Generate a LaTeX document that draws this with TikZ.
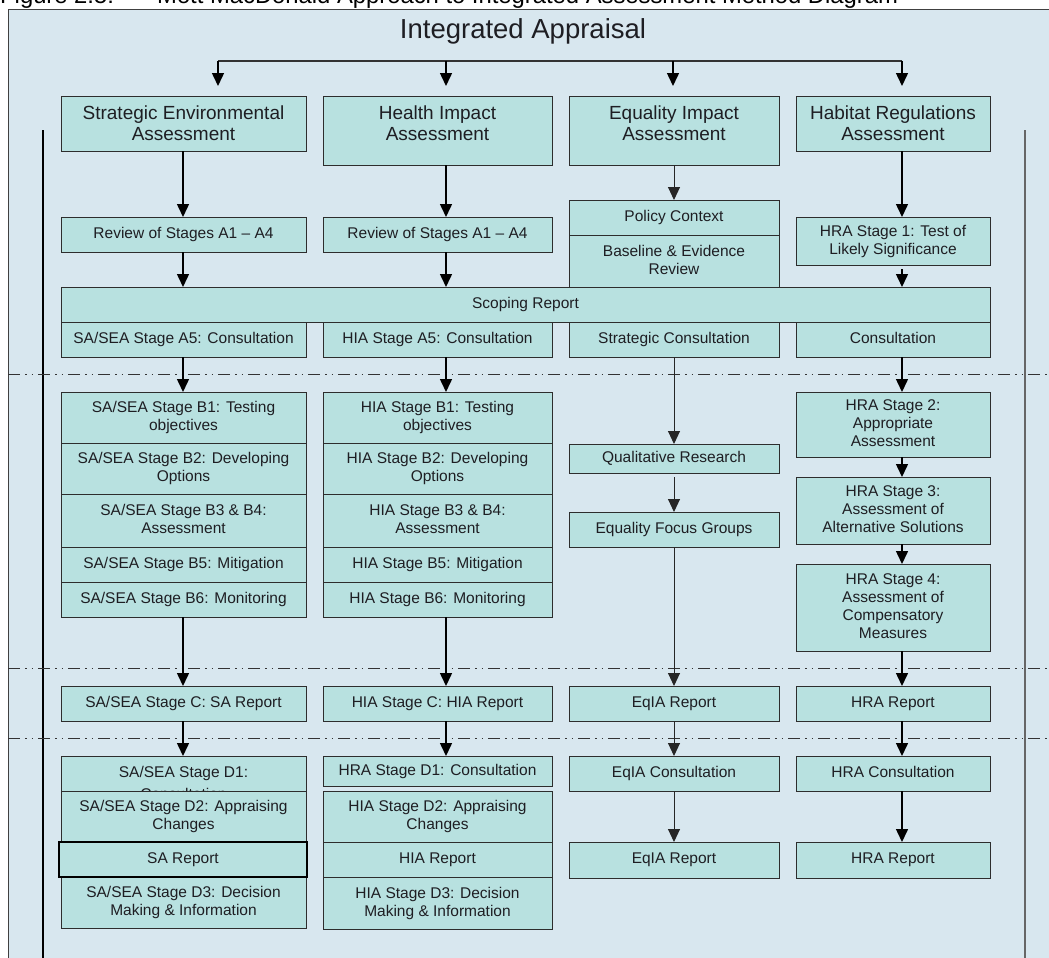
\documentclass[tikz,border=0pt]{standalone}
\usepackage{fontspec}
\setmainfont{Liberation Sans}
\usetikzlibrary{arrows.meta}
\definecolor{bgc}{RGB}{216,231,239}
\definecolor{boxfill}{RGB}{184,225,224}
\definecolor{boxline}{RGB}{45,45,45}
\definecolor{txtc}{RGB}{30,30,35}
\newcommand\bx[6]{\node[box, anchor=north west, minimum width={#4pt-#2pt}, minimum height={#5pt-#3pt}] (#1) at (#2,#3) {#6\vphantom{Ag}};}
\begin{document}
\begin{tikzpicture}[x=1pt,y=-1pt,
  box/.style={draw=boxline, fill=boxfill, line width=1pt, inner sep=0pt, outer sep=0pt, align=center, text=txtc, font=\fontsize{15.5}{18}\selectfont},
  htxt/.style={align=center, inner sep=0pt, text=txtc, font=\fontsize{19}{21}\selectfont},
  btxt/.style={inner sep=0pt, text=txtc, font=\fontsize{15.5}{18}\selectfont},
  conn/.style={draw=black, line width=1.5pt},
  arr/.style={draw=black, line width=1.5pt, -{Triangle[length=13pt,width=12pt]}},
  arrthin/.style={draw=black!85, line width=1pt, -{Triangle[length=13pt,width=12pt]}},
  sep/.style={draw=black!80, line width=1pt, dash pattern=on 12pt off 5pt on 1.5pt off 5pt on 1.5pt off 5pt}]
\useasboundingbox (0,0) rectangle (1049,958);
\clip (0,0) rectangle (1049,958);
\fill[white] (0,0) rectangle (1049,958);
% caption (cut at top)
\node[anchor=base west, inner sep=0pt, font=\fontsize{23.8}{26}\selectfont] (cap) at (0,4) {Figure 2.5:\hspace{12pt}–\hspace{18pt}Mott MacDonald Approach to Integrated Assessment Method Diagram};
% frame
\fill[bgc] (8,10) rectangle (1060,970);
\draw[draw=black!75, line width=1pt] (1060,10) -- (8,10) -- (8,970);
% side lines
\coordinate (ll1) at (43,130); \coordinate (ll2) at (43,960);
\coordinate (rl1) at (1025,130); \coordinate (rl2) at (1025,960);
\draw[draw=black, line width=1.2pt] (ll1) -- (ll2);
\draw[draw=black!60, line width=1.5pt] (rl1) -- (rl2);
% separators
\coordinate (sa1) at (8,374); \coordinate (sa2) at (1049,374);
\coordinate (sb1) at (8,668); \coordinate (sb2) at (1049,668);
\coordinate (sc1) at (8,738); \coordinate (sc2) at (1049,738);
\draw[sep] (sa1) -- (sa2);
\draw[sep] (sb1) -- (sb2);
\draw[sep] (sc1) -- (sc2);
% title
\node[anchor=base, inner sep=0pt, text=txtc, font=\fontsize{27.5}{30}\selectfont] (title) at (523,39) {Integrated Appraisal};
% column x positions for connectors
\coordinate (X1) at (183,0); \coordinate (X2) at (446,0);
\coordinate (X3) at (674,0); \coordinate (X4) at (902,0);
% top distribution
\coordinate (t1) at (218,61); \coordinate (t2) at (446,61);
\coordinate (t3) at (673,61); \coordinate (t4) at (902,61);
\coordinate (e1) at (218,86); \coordinate (e2) at (446,86);
\coordinate (e3) at (673,86); \coordinate (e4) at (902,86);
\draw[conn, draw=black!80] (t1) -- (t4);
\draw[arr] (t1) -- (e1);
\draw[arr] (t2) -- (e2);
\draw[arr] (t3) -- (e3);
\draw[arr] (t4) -- (e4);
% headers
\bx{h1}{61}{96}{306}{151}{}
\bx{h2}{323}{96}{552}{165}{}
\bx{h3}{569}{96}{779}{165}{}
\bx{h4}{796}{96}{990}{151}{}
\node[htxt] (h1t) at (183.5,123.5) {Strategic Environmental\\Assessment};
\node[htxt] (h2t) at (437.5,123.5) {Health Impact\\Assessment};
\node[htxt] (h3t) at (674,123.5) {Equality Impact\\Assessment};
\node[htxt] (h4t) at (893,123.5) {Habitat Regulations\\Assessment};
% stage A
\bx{r1}{61}{217}{306}{252}{Review of Stages A1 – A4}
\bx{r2}{323}{217}{552}{252}{Review of Stages A1 – A4}
\bx{pc}{569}{200}{779}{235}{Policy Context}
\bx{be}{569}{235}{779}{287}{Baseline \& Evidence\\Review}
\bx{s1}{796}{217}{990}{265}{HRA Stage 1: Test of\\Likely Significance}
\bx{sr}{61}{287}{990}{322}{Scoping Report}
\bx{a1}{61}{322}{306}{357}{SA/SEA Stage A5: Consultation}
\bx{a2}{323}{322}{552}{357}{HIA Stage A5: Consultation}
\bx{a3}{569}{322}{779}{357}{Strategic Consultation}
\bx{a4}{796}{322}{990}{357}{Consultation}
% stage B
\bx{b1a}{61}{392}{306}{443}{SA/SEA Stage B1: Testing\\objectives}
\bx{b1b}{61}{443}{306}{494}{SA/SEA Stage B2: Developing\\Options}
\bx{b1c}{61}{494}{306}{547}{SA/SEA Stage B3 \& B4:\\Assessment}
\bx{b1d}{61}{547}{306}{582}{SA/SEA Stage B5: Mitigation}
\bx{b1e}{61}{582}{306}{617}{SA/SEA Stage B6: Monitoring}
\bx{b2a}{323}{392}{552}{443}{HIA Stage B1: Testing\\objectives}
\bx{b2b}{323}{443}{552}{494}{HIA Stage B2: Developing\\Options}
\bx{b2c}{323}{494}{552}{547}{HIA Stage B3 \& B4:\\Assessment}
\bx{b2d}{323}{547}{552}{582}{HIA Stage B5: Mitigation}
\bx{b2e}{323}{582}{552}{617}{HIA Stage B6: Monitoring}
\bx{qr}{569}{444}{779}{473}{Qualitative Research}
\bx{fg}{569}{512}{779}{547}{Equality Focus Groups}
\bx{s2}{796}{392}{990}{457}{HRA Stage 2:\\Appropriate\\Assessment}
\bx{s3}{796}{477}{990}{544}{HRA Stage 3:\\Assessment of\\Alternative Solutions}
\bx{s4}{796}{564}{990}{651}{HRA Stage 4:\\Assessment of\\Compensatory\\Measures}
% stage C
\bx{c1}{61}{686}{306}{721}{SA/SEA Stage C: SA Report}
\bx{c2}{323}{686}{552}{721}{HIA Stage C: HIA Report}
\bx{c3}{569}{686}{779}{721}{EqIA Report}
\bx{c4}{796}{686}{990}{721}{HRA Report}
% stage D
\bx{d1a}{61}{756}{306}{791}{}
\node[btxt, anchor=base] (d1t1) at (183.5,777) {SA/SEA Stage D1:};
\node[btxt, anchor=base] (d1t2) at (183.5,799) {Consultation};
\bx{d1b}{61}{791}{306}{842}{SA/SEA Stage D2: Appraising\\Changes}
\bx{d1d}{61}{877}{306}{928}{SA/SEA Stage D3: Decision\\Making \& Information}
\node[box, draw=black, line width=2pt, anchor=north west, minimum width=248pt, minimum height=35pt] (d1c) at (59,842) {SA Report\vphantom{Ag}};
\bx{d2a}{323}{756}{552}{786}{HRA Stage D1: Consultation}
\bx{d2b}{323}{791}{552}{842}{HIA Stage D2: Appraising\\Changes}
\bx{d2c}{323}{842}{552}{877}{HIA Report}
\bx{d2d}{323}{877}{552}{929}{HIA Stage D3: Decision\\Making \& Information}
\bx{d3a}{569}{756}{779}{791}{EqIA Consultation}
\bx{d3b}{569}{842}{779}{878}{EqIA Report}
\bx{d4a}{796}{756}{990}{791}{HRA Consultation}
\bx{d4b}{796}{842}{990}{878}{HRA Report}
% connectors column 1
\draw[arr] (h1.south -| X1) -- (r1.north -| X1);
\draw[arr] (r1.south -| X1) -- (sr.north -| X1);
\draw[arr] (a1.south -| X1) -- (b1a.north -| X1);
\draw[arr] (b1e.south -| X1) -- (c1.north -| X1);
\draw[arr] (c1.south -| X1) -- (d1a.north -| X1);
% column 2
\draw[arr] (h2.south -| X2) -- (r2.north -| X2);
\draw[arr] (r2.south -| X2) -- (sr.north -| X2);
\draw[arr] (a2.south -| X2) -- (b2a.north -| X2);
\draw[arr] (b2e.south -| X2) -- (c2.north -| X2);
\draw[arr] (c2.south -| X2) -- (d2a.north -| X2);
% column 3
\draw[arrthin] (h3.south -| X3) -- (pc.north -| X3);
\draw[arrthin] (a3.south -| X3) -- (qr.north -| X3);
\draw[arrthin, shorten <=4pt] (qr.south -| X3) -- (fg.north -| X3);
\draw[arrthin] (fg.south -| X3) -- (c3.north -| X3);
\draw[arrthin] (c3.south -| X3) -- (d3a.north -| X3);
\draw[arrthin] (d3a.south -| X3) -- (d3b.north -| X3);
% column 4
\draw[arr] (h4.south -| X4) -- (s1.north -| X4);
\draw[arr, shorten <=4pt] (s1.south -| X4) -- (sr.north -| X4);
\draw[arr] (a4.south -| X4) -- (s2.north -| X4);
\draw[arr] (s2.south -| X4) -- (s3.north -| X4);
\draw[arr] (s3.south -| X4) -- (s4.north -| X4);
\draw[arr] (s4.south -| X4) -- (c4.north -| X4);
\draw[arr] (c4.south -| X4) -- (d4a.north -| X4);
\draw[arr] (d4a.south -| X4) -- (d4b.north -| X4);
\end{tikzpicture}
\end{document}
